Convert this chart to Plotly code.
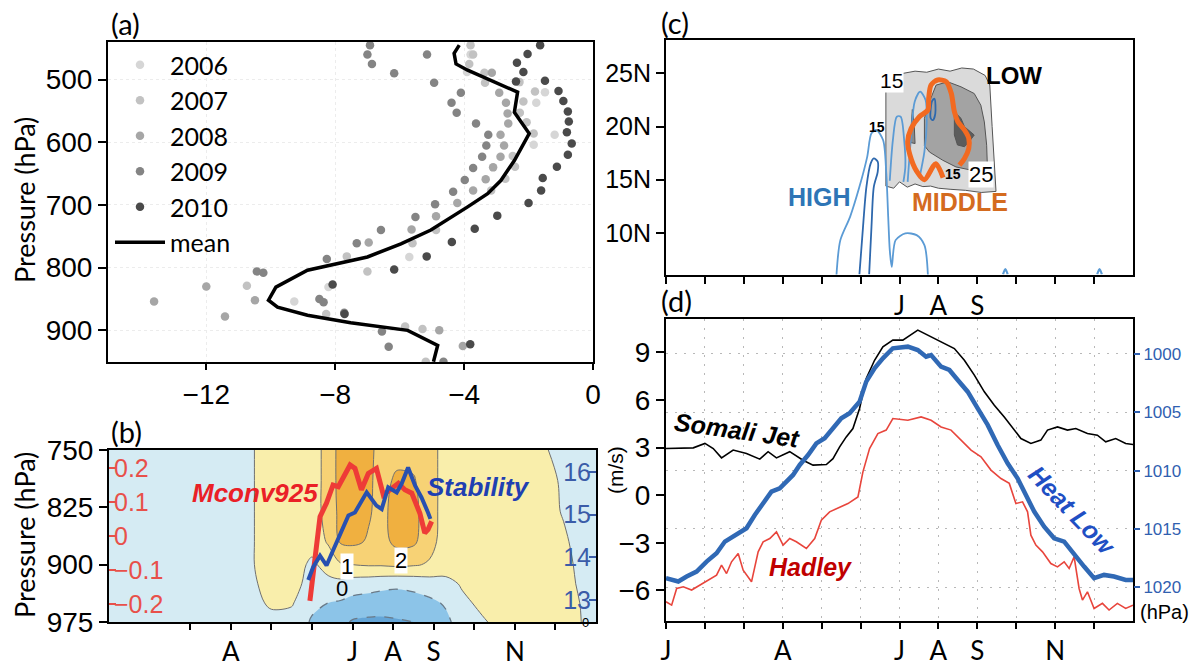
import plotly.graph_objects as go

W, H = 1199, 664
OFF = 8  # page body margin compensation
def px(X): return (X - OFF) / W
def py(Y): return 1 - (Y - OFF) / H

SANS = "Liberation Sans, Arial, sans-serif"
CAL = "Lato, Liberation Sans, sans-serif"

# ---------------- (a) data ----------------
mean_p = [445, 458, 475, 485, 520, 552, 586, 629, 661, 682, 703, 740, 762, 783, 804, 831, 852, 863, 876, 888, 900, 924, 950]
mean_v = [-4.15, -4.31, -4.25, -3.89, -2.34, -2.44, -1.98, -2.44, -2.86, -3.27, -3.89, -5.03, -5.96, -7.0, -8.86, -9.84, -10.07, -9.79, -8.86, -7.52, -5.75, -4.82, -4.95]

y2006_v = [-1.49, -1.76, -1.19, -1.84, -5.70, -9.27, -8.21, -3.80, -3.91]
y2006_p = [520, 537, 588, 604, 783, 854, 831, 460, 488]
y2007_v = [-3.80, -3.72, -3.84, -3.37, -3.35, -2.28, -1.80, -2.16, -2.27, -2.06, -1.84, -2.49, -2.42, -2.72, -3.16, -4.87, -5.60, -7.00, -5.83, -5.29, -5.19, -10.74, -7.64, -8.28]
y2007_p = [445, 460, 475, 489, 505, 504, 519, 535, 553, 568, 586, 622, 639, 658, 677, 740, 761, 806, 894, 898, 950, 829, 782, 874]
y2008_v = [-3.14, -2.91, -2.70, -2.65, -2.63, -2.87, -2.76, -2.87, -3.10, -3.33, -3.72, -4.21, -4.87, -5.63, -6.96, -4.77, -4.04, -13.62, -12.00, -11.42, -10.49]
y2008_p = [489, 521, 537, 554, 570, 588, 605, 623, 640, 659, 677, 697, 718, 739, 760, 900, 925, 854, 830, 878, 852]
y2009_v = [-6.92, -7.00, -6.86, -6.17, -5.15, -4.93, -4.10, -4.39, -4.23, -3.63, -3.25, -3.31, -3.44, -3.72, -3.98, -4.34, -4.90, -5.51, -6.58, -7.33, -7.72, -6.55, -6.34, -4.64, -10.43, -10.23, -8.49, -8.36, -8.26]
y2009_p = [445, 460, 475, 490, 460, 505, 521, 537, 553, 570, 588, 605, 623, 641, 660, 679, 699, 719, 740, 761, 872, 902, 926, 950, 806, 808, 850, 855, 786]
y2010_v = [-1.64, -2.03, -2.36, -2.16, -2.39, -1.49, -1.07, -0.92, -0.78, -0.75, -0.81, -0.66, -0.78, -1.12, -1.56, -1.61, -2.00, -2.97, -3.67, -4.38, -5.16, -6.17, -3.81, -8.08, -7.71]
y2010_p = [445, 459, 473, 488, 503, 502, 518, 534, 551, 567, 584, 602, 620, 639, 657, 677, 697, 717, 738, 759, 782, 803, 922, 827, 874]

# ---------------- (b) data ----------------
b_month = [0, 1, 2, 3, 3.5, 4, 4.5, 5, 5.4, 5.7, 6.0, 6.4, 6.7, 7.1, 7.5, 7.9, 8.3, 8.7, 9.2, 10, 10.7, 11.2, 11.6, 12]
b_pres = [750, 790, 830, 870, 900, 925, 950, 975]
b_cols = [
    [-0.5, -0.5, -0.5, -0.5, -0.5, -0.5, -0.5, -0.5],
    [-0.5, -0.5, -0.5, -0.5, -0.5, -0.5, -0.5, -0.5],
    [-0.5, -0.5, -0.5, -0.5, -0.5, -0.5, -0.5, -0.5],
    [-0.5, -0.5, -0.5, -0.5, -0.5, -0.5, -0.5, -0.5],
    [-0.1, -0.1, -0.1, -0.1, -0.1, -0.2, -0.3, -0.5],
    [0.5, 0.5, 0.5, 0.5, 0.5, 0.4, 0.15, -0.3],
    [0.5, 0.5, 0.5, 0.5, 0.5, 0.4, 0.1, -0.4],
    [0.6, 0.6, 0.6, 0.4, -0.2, -0.4, -0.8, -1.1],
    [1.3, 1.3, 1.3, 1.1, 0.4, -0.3, -1.0, -1.4],
    [2.4, 2.4, 2.3, 2.1, 0.9, -0.3, -1.1, -1.7],
    [2.6, 2.6, 2.5, 2.2, 1.0, -0.5, -1.3, -2.1],
    [2.3, 2.2, 2.1, 1.9, 1.1, -0.6, -1.4, -2.2],
    [1.6, 1.6, 1.7, 1.6, 1.1, -0.7, -1.5, -2.2],
    [1.6, 2.2, 2.4, 2.3, 1.2, -0.8, -1.5, -2.1],
    [1.6, 2.1, 2.3, 2.2, 1.1, -0.7, -1.4, -2.0],
    [1.4, 1.4, 1.4, 1.3, 0.9, -0.5, -1.2, -1.6],
    [0.6, 0.6, 0.6, 0.6, 0.5, -0.3, -0.9, -1.2],
    [0.5, 0.5, 0.5, 0.5, 0.4, 0.1, -0.2, -0.6],
    [0.5, 0.5, 0.5, 0.5, 0.5, 0.4, 0.2, -0.1],
    [0.5, 0.5, 0.5, 0.5, 0.5, 0.5, 0.5, 0.5],
    [0.1, 0.5, 0.5, 0.5, 0.5, 0.5, 0.5, 0.5],
    [-0.3, -0.2, -0.1, 0.2, 0.3, 0.3, 0.3, 0.3],
    [-0.5, -0.5, -0.5, -0.4, -0.2, -0.1, 0.0, 0.05],
    [-0.5, -0.5, -0.5, -0.5, -0.5, -0.5, -0.5, -0.5],
]
b_field = [[col[i] for col in b_cols] for i in range(len(b_pres))]

mconv_m = [4.95, 5.03, 5.12, 5.2, 5.36, 5.52, 5.65, 5.85, 5.94, 6.06, 6.22, 6.39, 6.59, 6.76, 6.92, 7.13, 7.29, 7.46, 7.66, 7.78, 7.86, 7.95]
mconv_v = [-0.19, -0.107, -0.01, 0.058, 0.098, 0.151, 0.146, 0.19, 0.21, 0.2, 0.137, 0.185, 0.2, 0.122, 0.137, 0.156, 0.137, 0.127, 0.068, 0.01, 0.02, 0.044]
stab_m = [4.91, 5.03, 5.2, 5.36, 5.52, 5.69, 5.9, 6.06, 6.35, 6.59, 6.72, 6.88, 7.09, 7.21, 7.37, 7.54, 7.7, 7.86, 7.92]
stab_v = [13.47, 13.77, 14.04, 13.81, 14.16, 14.51, 14.98, 15.05, 15.52, 15.21, 15.13, 15.64, 15.52, 15.72, 16.1, 15.68, 15.4, 15.05, 14.9]

# ---------------- (c) data ----------------
low15_m = [5.65, 5.65, 5.9, 6.1, 6.4, 6.7, 7.0, 7.3, 7.6, 7.9, 8.2, 8.32, 8.38, 8.42, 8.45, 8.48, 8.1, 7.7, 7.3, 7.0, 6.8, 6.6, 6.4, 6.2, 6.0, 5.85, 5.65]
low15_lat = [14.4, 24.0, 24.6, 25.0, 25.2, 25.1, 25.4, 25.2, 25.5, 25.4, 24.8, 23.9, 20.0, 17.0, 15.2, 13.9, 13.8, 14.0, 14.1, 14.2, 14.4, 14.35, 14.6, 14.3, 14.8, 14.2, 14.4]
low20_m = [6.64, 6.77, 6.94, 7.24, 7.58, 7.92, 8.09, 8.18, 8.24, 8.26, 7.84, 7.45, 7.11, 6.77, 6.64, 6.64]
low20_lat = [20.77, 22.33, 23.89, 24.2, 23.73, 23.1, 22.0, 20.43, 18.24, 16.05, 15.9, 16.2, 16.83, 17.6, 18.2, 20.77]
spike_m = [6.27, 6.30, 6.33, 6.38, 6.40, 6.27]
spike_lat = [18.5, 20.5, 21.6, 20.0, 18.4, 18.5]
low25_m = [7.41, 7.58, 7.67, 7.92, 7.79, 7.67, 7.49, 7.41, 7.41]
low25_lat = [21.39, 20.77, 19.98, 19.2, 18.57, 18.1, 18.26, 19.2, 21.39]
mid_m = [7.12, 6.93, 6.64, 6.44, 6.27, 6.21, 6.3, 6.51, 6.73, 6.75, 6.81, 6.98, 7.2, 7.33, 7.41, 7.5, 7.67, 7.78, 7.78, 7.67, 7.54]
mid_lat = [15.2, 16.5, 15.0, 15.8, 17.3, 18.57, 19.82, 20.92, 21.55, 22.65, 23.9, 24.37, 24.21, 23.12, 21.39, 20.45, 19.67, 18.88, 17.94, 17.0, 16.37]
high_outer_m = [4.38, 4.48, 4.73, 4.97, 5.17, 5.28, 5.41, 5.58, 5.66, 5.71, 5.75, 5.8, 5.9, 6.15, 6.44, 6.64, 6.73]
high_outer_lat = [6.03, 9.32, 11.51, 14.33, 17.15, 19.36, 19.67, 18.7, 15.6, 11.5, 8.38, 6.8, 9.32, 9.95, 9.79, 8.85, 6.03]
high_inner_m = [4.97, 5.05, 5.15, 5.26, 5.34, 5.44, 5.44, 5.34, 5.28, 5.22]
high_inner_lat = [6.1, 9.95, 14.33, 16.53, 17.0, 16.7, 15.74, 14.33, 10.57, 6.1]
high_a_m = [5.75, 5.83, 5.93, 6.03, 6.12, 6.15, 6.1]
high_a_lat = [14.9, 18.72, 20.92, 20.92, 18.72, 16.21, 14.8]
high_b_m = [6.21, 6.3, 6.39, 6.53, 6.67, 6.7, 6.64, 6.51]
high_b_lat = [14.8, 19.2, 22.33, 23.27, 22.49, 20.45, 17.63, 15.12]
high_c_m = [6.8, 6.84, 6.9, 6.92, 6.86, 6.8]
high_c_lat = [20.8, 22.4, 22.6, 21.2, 20.6, 20.8]
high_blip_m = [8.66, 8.72, 8.78, None, 11.08, 11.14, 11.2]
high_blip_lat = [6.1, 6.6, 6.1, None, 6.1, 6.6, 6.1]

# ---------------- (d) data ----------------
jet_m = [0.0, 0.359, 0.701, 1.0, 1.214, 1.427, 1.726, 2.068, 2.41, 2.624, 2.838, 3.179, 3.521, 3.778, 4.12, 4.291, 4.462, 4.632, 4.803, 4.974, 5.145, 5.359, 5.573, 5.829,
         6.085, 6.47, 6.812, 7.154, 7.41, 7.667, 7.923, 8.18, 8.436, 8.692, 8.949, 9.12, 9.376, 9.632, 9.803, 10.06, 10.316, 10.53, 10.829, 11.085, 11.299, 11.556, 11.812, 12.0]
jet_v = [2.94, 2.97, 2.98, 3.26, 2.94, 2.35, 2.84, 2.63, 2.27, 2.74, 2.35, 2.74, 2.2, 1.89, 1.93, 2.3, 3.04, 3.67, 4.2, 5.46, 7.35, 8.5, 9.35, 9.77,
         9.77, 10.4, 9.98, 9.56, 9.24, 8.5, 7.56, 6.51, 5.67, 4.93, 4.1, 3.57, 3.26, 3.47, 4.1, 4.3, 4.1, 4.2, 3.88, 3.78, 3.36, 3.57, 3.26, 3.19]
heat_m = [0.0, 0.316, 0.53, 0.786, 1.043, 1.299, 1.513, 1.641, 1.855, 2.068, 2.282, 2.496, 2.709, 2.923, 3.094, 3.265, 3.436, 3.65, 3.863, 4.077, 4.291, 4.504, 4.718, 4.974, 5.145, 5.359, 5.573, 5.829,
          6.214, 6.47, 6.684, 6.812, 7.068, 7.282, 7.496, 7.752, 8.009, 8.265, 8.521, 8.778, 9.034, 9.205, 9.462, 9.718, 9.974, 10.231, 10.487, 10.744, 11.0, 11.256, 11.513, 11.812, 12.0]
heat_p = [1019.22, 1019.5, 1019.08, 1018.65, 1017.8, 1017.08, 1016.08, 1015.8, 1015.37, 1014.94, 1013.8, 1012.8, 1011.8, 1011.51, 1010.94, 1010.37, 1009.51, 1008.66, 1007.66, 1007.22, 1006.37, 1005.51, 1005.08, 1004.08, 1002.37, 1001.23, 1000.37, 999.51,
          999.37, 999.66, 1000.23, 1000.09, 1001.09, 1001.37, 1002.23, 1003.23, 1004.66, 1006.08, 1007.8, 1009.37, 1010.66, 1011.8, 1013.51, 1014.8, 1015.8, 1016.08, 1017.22, 1018.22, 1019.22, 1018.94, 1019.08, 1019.37, 1019.37]
had_m = [0.0, 0.145, 0.274, 0.444, 0.658, 0.872, 1.128, 1.299, 1.427, 1.556, 1.684, 1.855, 1.983, 2.197, 2.368, 2.496, 2.667, 2.838, 3.009, 3.179, 3.35, 3.607, 3.821, 3.991, 4.205, 4.462, 4.675, 4.932, 5.06, 5.231, 5.444, 5.658, 5.829,
         6.214, 6.555, 6.812, 7.068, 7.325, 7.581, 7.838, 8.094, 8.35, 8.607, 8.821, 8.991, 9.162, 9.291, 9.376, 9.504, 9.675, 9.889, 10.06, 10.231, 10.359, 10.487, 10.615, 10.701, 10.829, 11.0, 11.214, 11.385, 11.598, 11.812, 12.0]
had_v = [-6.72, -6.93, -5.88, -5.77, -5.98, -5.67, -5.25, -5.04, -4.41, -4.94, -4.2, -3.68, -4.73, -5.46, -3.57, -2.94, -2.73, -2.31, -3.15, -2.73, -2.94, -3.36, -2.73, -1.58, -1.05, -0.74, -0.53, -0.11, 1.47, 2.94, 3.88, 4.1, 4.83,
         4.72, 4.93, 4.72, 4.3, 4.1, 3.47, 2.84, 2.42, 1.58, 1.05, 0.74, -0.53, -0.42, -1.05, -2.52, -3.15, -3.57, -4.31, -4.52, -4.2, -4.62, -3.89, -5.88, -6.61, -6.09, -7.14, -6.82, -7.24, -6.82, -7.14, -6.93]

month_ticks = list(range(12))
month_text = ['J', '', '', 'A', '', '', 'J', 'A', 'S', '', 'N', '']
c_month_text = ['', '', '', '', '', '', 'J', 'A', 'S', '', '', '']

fig = go.Figure()

# ---------- (a) ----------
for name, col, v, p in [('2006', '#d6d6d6', y2006_v, y2006_p), ('2007', '#c2c2c2', y2007_v, y2007_p),
                        ('2008', '#a6a6a6', y2008_v, y2008_p), ('2009', '#848484', y2009_v, y2009_p),
                        ('2010', '#4a4a4a', y2010_v, y2010_p)]:
    fig.add_trace(go.Scatter(x=v, y=p, mode='markers', name=name, legendgroup=name,
                             marker=dict(color=col, size=8.5), xaxis='x', yaxis='y', hoverinfo='skip'))
fig.add_trace(go.Scatter(x=mean_v, y=mean_p, mode='lines', name='mean', legendgroup='mean',
                         line=dict(color='black', width=3.5), xaxis='x', yaxis='y', hoverinfo='skip'))

# ---------- (b) ----------
cs = [[0, '#64a5d7'], [0.1, '#64a5d7'], [0.1, '#8cc4e8'], [0.3, '#8cc4e8'], [0.3, '#d5ebf3'], [0.5, '#d5ebf3'],
      [0.5, '#f9eeab'], [0.7, '#f9eeab'], [0.7, '#f7d275'], [0.9, '#f7d275'], [0.9, '#f0b040'], [1, '#f0b040']]
fig.add_trace(go.Contour(x=b_month, y=b_pres, z=b_field, colorscale=cs, showscale=False,
                         contours=dict(start=-2, end=2, size=1, coloring='fill', showlines=False),
                         line=dict(width=0, smoothing=1), xaxis='x2', yaxis='y2', hoverinfo='skip', showlegend=False))
fig.add_trace(go.Contour(x=b_month, y=b_pres, z=b_field, showscale=False,
                         contours=dict(start=0, end=2, size=1, coloring='none'),
                         line=dict(width=1, color='#707070', smoothing=1), xaxis='x2', yaxis='y2', hoverinfo='skip', showlegend=False))
fig.add_trace(go.Contour(x=b_month, y=b_pres, z=b_field, showscale=False,
                         contours=dict(start=-2, end=-1, size=1, coloring='none'),
                         line=dict(width=1.3, color='#6a7a88', dash='dash', smoothing=1), xaxis='x2', yaxis='y2', hoverinfo='skip', showlegend=False))
fig.add_trace(go.Scatter(x=mconv_m, y=mconv_v, mode='lines', line=dict(color='#ee3b37', width=5),
                         xaxis='x2', yaxis='y5', showlegend=False, hoverinfo='skip'))
fig.add_trace(go.Scatter(x=stab_m, y=stab_v, mode='lines', line=dict(color='#2850b0', width=4),
                         xaxis='x2', yaxis='y6', showlegend=False, hoverinfo='skip'))

# ---------- (c) ----------
def poly(m, lat, fill, line='#555555', w=1):
    fig.add_trace(go.Scatter(x=m, y=lat, mode='lines', fill='toself', fillcolor=fill,
                             line=dict(color=line, width=w), xaxis='x3', yaxis='y3', showlegend=False, hoverinfo='skip'))
poly(low15_m, low15_lat, '#dadada')
poly(low20_m, low20_lat, '#a3a3a3')
poly(spike_m, spike_lat, '#8a8a8a')
poly(low25_m, low25_lat, '#5c5c5c')

def cline(m, lat, col, w=1.8):
    fig.add_trace(go.Scatter(x=m, y=lat, mode='lines', line=dict(color=col, width=w, shape='spline', smoothing=0.8),
                             xaxis='x3', yaxis='y3', showlegend=False, hoverinfo='skip', connectgaps=False))
cline(high_outer_m, high_outer_lat, '#5b9bd5')
cline(high_inner_m, high_inner_lat, '#2e68ad')
cline(high_a_m, high_a_lat, '#5b9bd5')
cline(high_b_m, high_b_lat, '#5b9bd5')
cline(high_c_m, high_c_lat, '#2e68ad')
cline(high_blip_m, high_blip_lat, '#5b9bd5', 2.2)
cline(mid_m, mid_lat, '#f26a21', 5)

# ---------- (d) ----------
fig.add_trace(go.Scatter(x=jet_m, y=jet_v, mode='lines', line=dict(color='black', width=1.6),
                         xaxis='x4', yaxis='y4', showlegend=False, hoverinfo='skip'))
fig.add_trace(go.Scatter(x=had_m, y=had_v, mode='lines', line=dict(color='#e8453c', width=1.6),
                         xaxis='x4', yaxis='y4', showlegend=False, hoverinfo='skip'))
fig.add_trace(go.Scatter(x=heat_m, y=heat_p, mode='lines', line=dict(color='#3069b5', width=4.5),
                         xaxis='x4', yaxis='y7', showlegend=False, hoverinfo='skip'))

box = dict(showline=True, linecolor='black', linewidth=2, mirror=True, ticks='outside', ticklen=8,
           tickwidth=1.5, tickcolor='black', zeroline=False, showgrid=False, automargin=False)
tf = dict(family=SANS, size=28, color='black')
tfd = dict(family=SANS, size=28, color='black')
tfc = dict(family=CAL, size=26, color='black')

layout = dict(
    width=W, height=H, margin=dict(l=0, r=0, t=0, b=0, pad=0, autoexpand=False),
    paper_bgcolor='white', plot_bgcolor='white',
    showlegend=True,
    legend=dict(x=px(110), y=py(42), xanchor='left', yanchor='top', bgcolor='rgba(0,0,0,0)',
                font=dict(family=CAL, size=25, color='black'), tracegroupgap=0, itemwidth=50),
    xaxis=dict(box, domain=[px(108), px(593)], anchor='y', range=[-15.05, 0], ticklen=6,
               tickvals=[-12, -8, -4, 0], ticktext=['\u221212', '\u22128', '\u22124', '0'], tickfont=tf,
               showgrid=True, gridcolor='#ececec', griddash='dot'),
    yaxis=dict(box, domain=[py(362), py(42)], anchor='x', range=[950.5, 440],
               tickvals=[500, 600, 700, 800, 900], tickfont=tf,
               showgrid=True, gridcolor='#ececec', griddash='dot'),
    xaxis2=dict(box, domain=[px(109), px(596)], anchor='y2', range=[0, 12], ticklen=6,
                tickvals=month_ticks, ticktext=month_text, tickfont=tfc),
    yaxis2=dict(box, domain=[py(622), py(450)], anchor='x2', range=[975, 750],
                tickvals=[750, 825, 900, 975], tickfont=tf),
    yaxis5=dict(overlaying='y2', anchor='x2', side='left', range=[-0.252, 0.254],
                tickvals=[-0.2, -0.1, 0, 0.1, 0.2], ticktext=['\u22120.2', '\u22120.1', '0', '0.1', '0.2'],
                ticks='inside', ticklen=7, tickwidth=1.5, tickcolor='#e8504a', ticklabelposition='inside',
                tickfont=dict(family=SANS, size=25, color='#e8504a'), showline=False, showgrid=False,
                zeroline=False, automargin=False),
    yaxis6=dict(overlaying='y2', anchor='x2', side='right', range=[12.49, 16.51],
                tickvals=[13, 14, 15, 16], ticks='inside', ticklen=7, tickwidth=1.5, tickcolor='#3b5ca8',
                ticklabelposition='inside', tickfont=dict(family=SANS, size=25, color='#3b5ca8'),
                showline=False, showgrid=False, zeroline=False, automargin=False),
    xaxis3=dict(box, domain=[px(666), px(1133)], anchor='y3', range=[0, 12], ticklen=7,
                tickvals=month_ticks, ticktext=c_month_text, tickfont=tfc),
    yaxis3=dict(box, domain=[py(274.5), py(40)], anchor='x3', range=[6.09, 28.13],
                tickvals=[10, 15, 20, 25], ticktext=['10N', '15N', '20N', '25N'], tickfont=dict(family=SANS, size=25, color='black')),
    xaxis4=dict(box, domain=[px(666), px(1133)], anchor='y4', range=[0, 12], ticklen=6,
                tickvals=month_ticks, ticktext=month_text, tickfont=tfc,
                showgrid=True, gridcolor='#b8b8b8', griddash='2px,7px', gridwidth=1.3),
    yaxis4=dict(box, domain=[py(621), py(319)], anchor='x4', range=[-7.93, 11.1],
                tickvals=[-6, -3, 0, 3, 6, 9], ticktext=['\u22126', '\u22123', '0', '3', '6', '9'], tickfont=tfd),
    yaxis7=dict(overlaying='y4', anchor='x4', side='right', range=[1022.89, 997.0],
                tickvals=[1000, 1005, 1010, 1015, 1020], ticks='outside', ticklen=6, tickwidth=1.5,
                tickcolor='#3060b0', tickfont=dict(family=SANS, size=17, color='#3060b0'),
                showline=False, zeroline=False, showgrid=True, gridcolor='#b8b8b8', griddash='2px,7px',
                gridwidth=1.3, automargin=False),
)
fig.update_layout(**layout)

def ann(X, Y, text, size=22, color='black', family=CAL, angle=0, bold=False, italic=False, bg=None):
    t = text
    if bold:
        t = '<b>' + t + '</b>'
    if italic:
        t = '<i>' + t + '</i>'
    d = dict(x=px(X), y=py(Y), xref='paper', yref='paper', text=t, showarrow=False,
             font=dict(size=size, color=color, family=family), textangle=angle,
             xanchor='center', yanchor='middle')
    if bg:
        d.update(bgcolor=bg, borderpad=0)
    fig.add_annotation(**d)

ann(125, 24, '(a)', 29)
ann(126, 431, '(b)', 29)
ann(675, 22, '(c)', 29)
ann(676, 301, '(d)', 29)
ann(24, 200, 'Pressure (hPa)', 27, angle=-90)
ann(24, 535, 'Pressure (hPa)', 27, angle=-90)
ann(615, 470, '(m/s)', 21, family=SANS, angle=-90)
ann(1164, 612, '(hPa)', 20, family=SANS)
ann(255, 493, 'Mconv925', 26, '#ea2026', family=SANS, bold=True, italic=True)
ann(478, 487, 'Stability', 26, '#1f3fb2', family=SANS, bold=True, italic=True)
ann(737, 430, 'Somali Jet', 25, 'black', family=SANS, angle=8, bold=True, italic=True)
ann(810, 567, 'Hadley', 25, '#c00000', family=SANS, bold=True, italic=True)
ann(1072, 510, 'Heat Low', 25, '#1f4fc4', family=SANS, angle=46, bold=True, italic=True)
ann(819, 197, 'HIGH', 25, '#2e75b6', family=SANS, bold=True)
ann(960, 202, 'MIDDLE', 25, '#d46b1f', family=SANS, bold=True)
ann(1014, 75, 'LOW', 24, 'black', family=SANS, bold=True)
ann(891, 80, '15', 21, family=SANS, bg='white')
ann(877, 127, '15', 14, family=SANS, bold=True)
ann(953, 174, '15', 14, family=SANS, bold=True)
ann(981, 174, '25', 22, family=SANS, bg='white')
ann(347, 566, '1', 22, family=SANS, bg='white')
ann(342, 588, '0', 22, family=SANS)
ann(401, 560, '2', 22, family=SANS, bg='white')
ann(585, 622, '0', 13, family=SANS)

fig.write_html("out.html")
